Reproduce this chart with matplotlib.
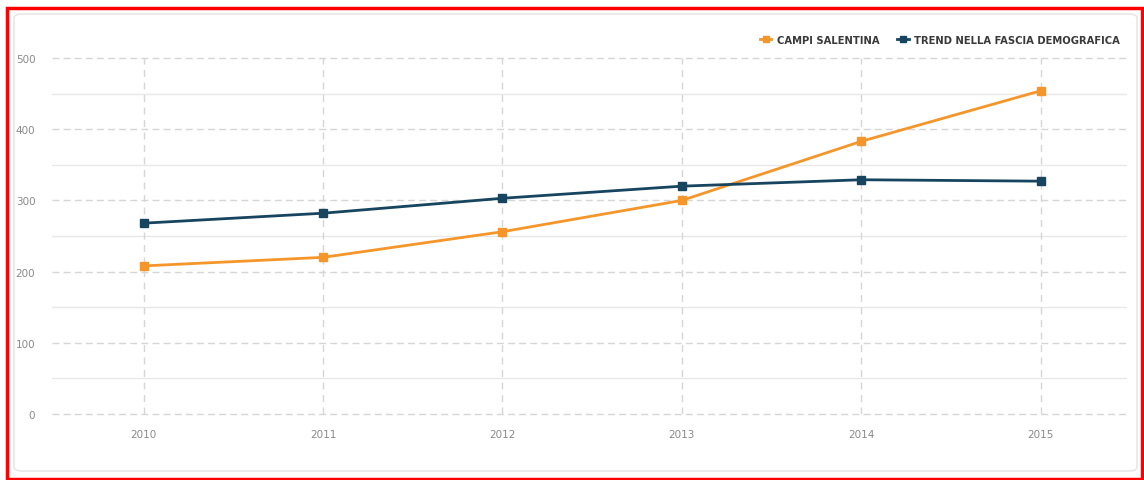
import matplotlib
matplotlib.use("Agg")
import matplotlib.pyplot as plt
from matplotlib.patches import Rectangle, FancyBboxPatch
from matplotlib.lines import Line2D

years = [2010, 2011, 2012, 2013, 2014, 2015]
campi = [208, 220, 256, 300, 383, 454]
trend = [268, 282, 303, 320, 329, 327]
series_names = ["CAMPI SALENTINA", "TREND NELLA FASCIA DEMOGRAFICA"]
y_ticks = [0, 100, 200, 300, 400, 500]

ORANGE = "#F5962A"
NAVY = "#17445F"
GRID = "#d6d6d6"
GRID2 = "#e8e8e8"
TXT = "#8a8a8a"

fig = plt.figure(figsize=(11.44, 4.81), dpi=100)
W, H = 1144, 481

# outer red frame
fig.patches.append(Rectangle((7 / W, 1 - 480 / H), (1142 - 7) / W, (480 - 9) / H,
                             transform=fig.transFigure, fill=False,
                             edgecolor="#ff0000", linewidth=2.5, zorder=0))
# inner rounded panel
fig.patches.append(FancyBboxPatch((14 / W, 1 - 472 / H), (1137 - 14) / W, (472 - 15) / H,
                                  boxstyle="round,pad=0,rounding_size=0.008",
                                  transform=fig.transFigure, fill=False,
                                  edgecolor="#e3e3e3", linewidth=1.0, zorder=0))

ax = fig.add_axes([52 / W, 1 - 415 / H, (1127 - 52) / W, (415 - 59) / H])
ax.set_xlim(2009.49, 2015.48)
ax.set_ylim(0, 500)

for s in ax.spines.values():
    s.set_visible(False)

# grid lines
for v in y_ticks:
    ax.axhline(v, color=GRID, lw=1.0, ls=(0, (5, 3)), zorder=1, clip_on=False)
for v in [50, 150, 250, 350, 450]:
    ax.axhline(v, color=GRID2, lw=1.0, zorder=1)
for x in years:
    ax.axvline(x, color=GRID, lw=1.0, ls=(0, (5, 4)), zorder=1)

ax.plot(years, campi, color=ORANGE, lw=2, marker="s", ms=6, zorder=3,
        clip_on=False, label=series_names[0])
ax.plot(years, trend, color=NAVY, lw=2, marker="s", ms=6, zorder=4,
        clip_on=False, label=series_names[1])

ax.set_xticks(years)
ax.set_xticklabels([str(y) for y in years])
ax.set_yticks(y_ticks)
ax.set_yticklabels([str(v) for v in y_ticks])
ax.tick_params(axis="both", length=0, labelsize=7.5, colors=TXT)
ax.tick_params(axis="x", pad=11)
ax.tick_params(axis="y", pad=12)

handles = [Line2D([0], [0], color=ORANGE, lw=2, marker="s", ms=5),
           Line2D([0], [0], color=NAVY, lw=2, marker="s", ms=5)]
leg = fig.legend(handles, series_names, loc="upper right",
                 bbox_to_anchor=(1130 / W, 1 - 26 / H), ncol=2, frameon=False,
                 handlelength=1.0, handletextpad=0.5, columnspacing=1.6,
                 prop={"family": "DejaVu Sans", "stretch": "condensed",
                       "weight": "bold", "size": 8})
for t in leg.get_texts():
    t.set_color("#3a3a3a")

fig.savefig("out.png", dpi=100)
